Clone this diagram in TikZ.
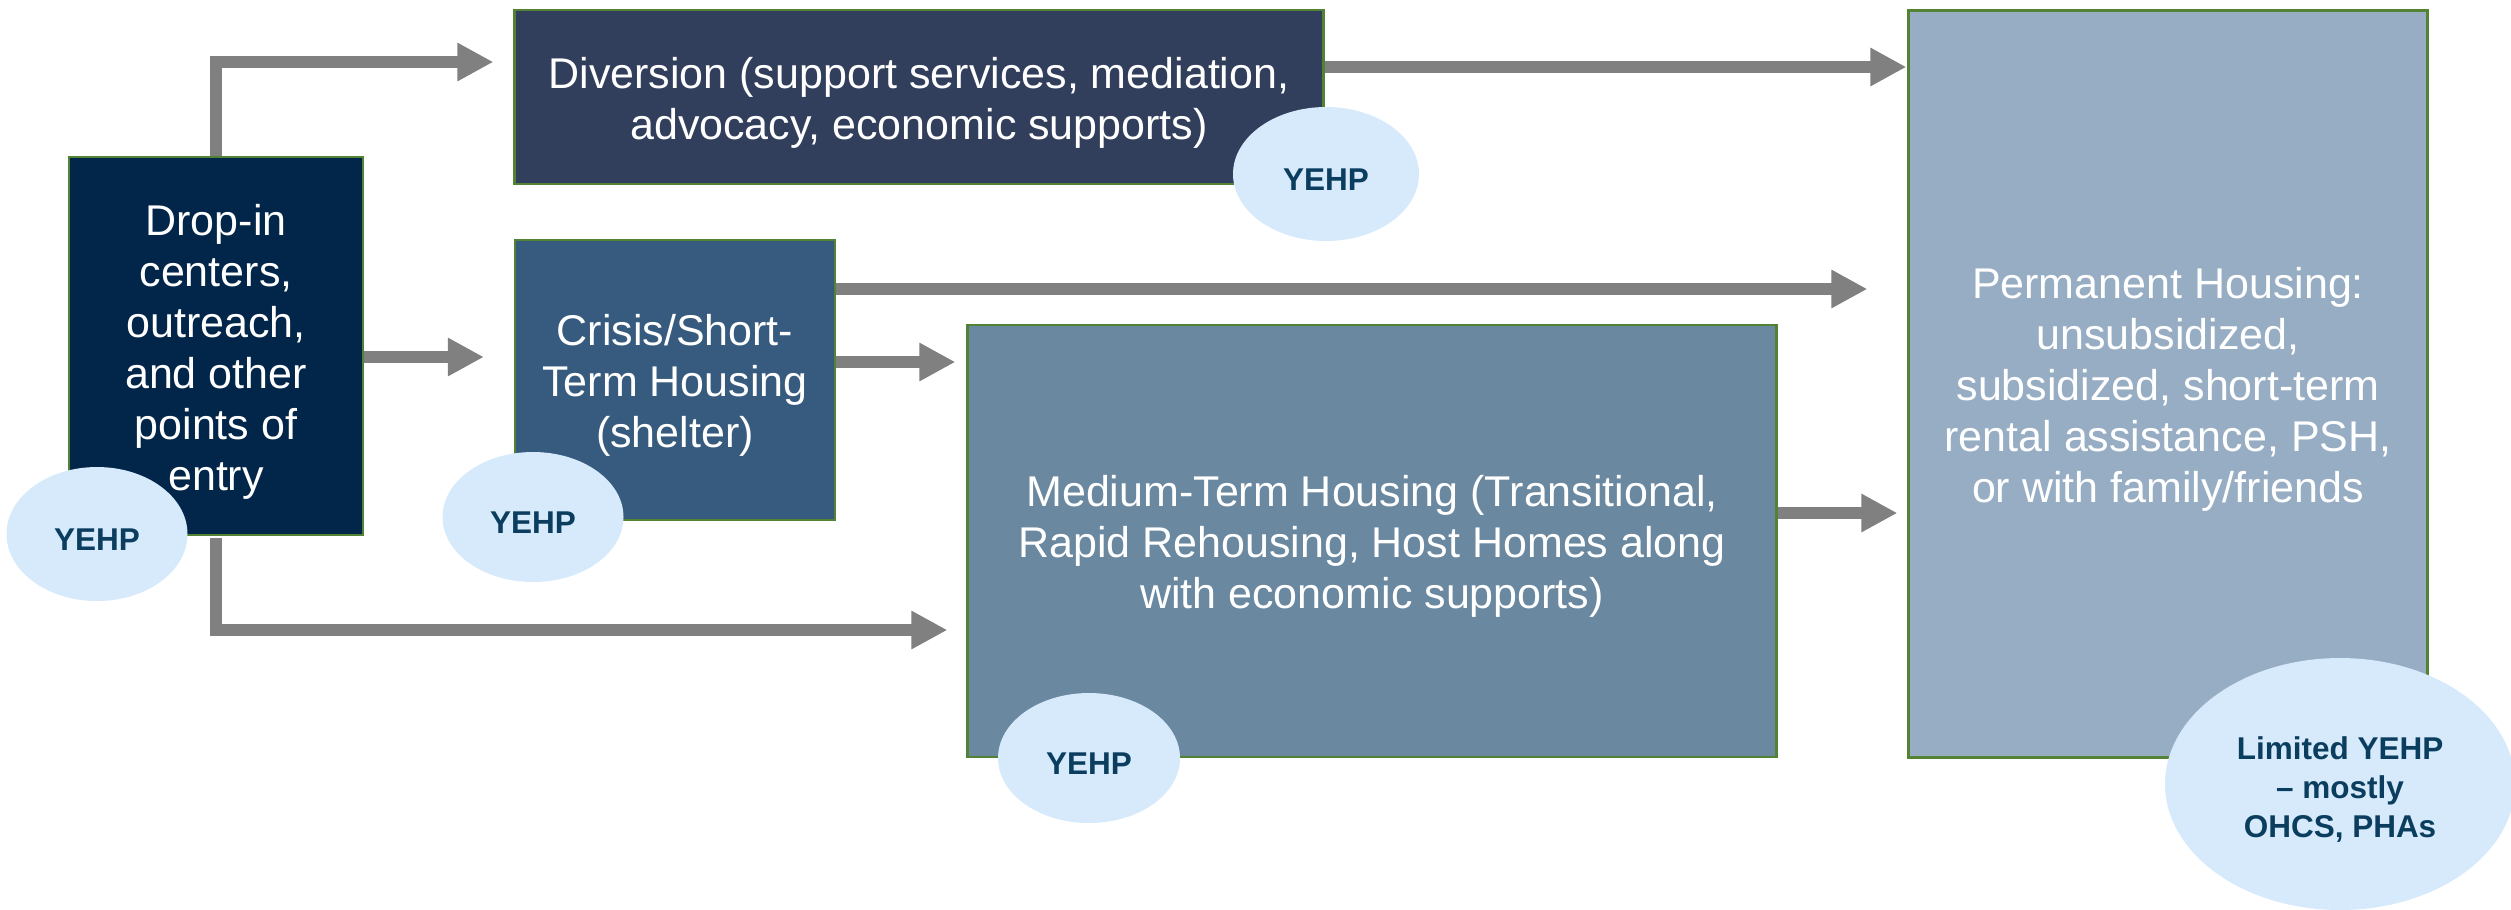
\documentclass[tikz,border=0pt]{standalone}
\usepackage{fontspec}
\setmainfont{Liberation Sans}
\usetikzlibrary{arrows.meta,shapes.geometric,calc}
\definecolor{cdrop}{HTML}{02264A}
\definecolor{cdiv}{HTML}{323F5C}
\definecolor{ccrisis}{HTML}{375B7E}
\definecolor{cmed}{HTML}{6A88A0}
\definecolor{cperm}{HTML}{97ADC4}
\definecolor{cborder}{HTML}{548235}
\definecolor{cell}{HTML}{D6EAFC}
\definecolor{cyehp}{HTML}{0B3D5E}
\definecolor{carrow}{HTML}{808080}
\tikzset{
  textdrop/.style={execute at begin node={\rule{0pt}{#1}}},
  box/.style={draw=cborder, line width=0.9pt, inner sep=0pt},
  boxtext/.style={inner sep=0pt, align=center, text=white, yshift=-2.2pt,
    font=\fontsize{17.2pt}{20.4pt}\selectfont},
  badge/.style={ellipse, fill=cell, inner sep=0pt, align=center, text=cyehp,
    font=\bfseries\fontsize{12.6pt}{15.6pt}\selectfont, textdrop=13.4pt},
  badgetext/.style={inner sep=0pt, align=center, text=cyehp, yshift=-2.2pt,
    font=\bfseries\fontsize{12.6pt}{15.6pt}\selectfont},
  arr/.style={draw=carrow, line width=4.8pt, line join=miter,
    -{Triangle[length=14.4pt,width=14.4pt]}}
}
\begin{document}
\begin{tikzpicture}[x=0.4pt,y=-0.4pt]
\useasboundingbox (0,0) rectangle (2511,909);
\clip (0,0) rectangle (2511,909);
% boxes
\node[box, fill=cdrop, minimum width=294*0.4pt, minimum height=378*0.4pt,
  label={[boxtext]center:{Drop-in\\centers,\\outreach,\\and other\\points of\\entry}}] (drop) at (216,346) {};
\node[box, fill=cdiv, minimum width=809*0.4pt, minimum height=174*0.4pt,
  label={[boxtext]center:{Diversion (support services, mediation,\\advocacy, economic supports)}}] (div) at (919,97) {};
\node[box, fill=ccrisis, minimum width=320*0.4pt, minimum height=280*0.4pt,
  label={[boxtext]center:{Crisis/Short-\\Term Housing\\(shelter)}}] (crisis) at (675,380) {};
\node[box, fill=cmed, minimum width=809*0.4pt, minimum height=432*0.4pt,
  label={[boxtext]center:{Medium-Term Housing (Transitional,\\Rapid Rehousing, Host Homes along\\with economic supports)}}] (med) at (1372,541) {};
\node[box, fill=cperm, minimum width=519*0.4pt, minimum height=747*0.4pt,
  label={[boxtext]center:{Permanent Housing:\\unsubsidized,\\subsidized, short-term\\rental assistance, PSH,\\or with family/friends}}] (perm) at (2168,384) {};
% arrows
\draw[arr] (drop.north) |- ([shift={(-20,-35)}]div.west);
\draw[arr] ([shift={(0,11)}]drop.east) -- ([shift={(-30,-23)}]crisis.west);
\draw[arr] ([shift={(0,2)}]drop.south) |- ([shift={(-19,89)}]med.west);
\draw[arr] ([shift={(0,-18)}]crisis.east) -- ([shift={(-11,-179)}]med.west);
\draw[arr] ([shift={(0,-91)}]crisis.east) -- ([shift={(-40,-95)}]perm.west);
\draw[arr] ([shift={(0,-30)}]div.east) -- ([shift={(-1,-317)}]perm.west);
\draw[arr] ([shift={(0,-28)}]med.east) -- ([shift={(-10,129)}]perm.west);
% badges
\node[badge, minimum width=181*0.4pt, minimum height=134*0.4pt] (b1) at (97,534) {YEHP};
\node[badge, minimum width=181*0.4pt, minimum height=130*0.4pt] (b2) at (533,517) {YEHP};
\node[badge, minimum width=186*0.4pt, minimum height=134*0.4pt] (b3) at (1326,174) {YEHP};
\node[badge, minimum width=182*0.4pt, minimum height=130*0.4pt] (b4) at (1089,758) {YEHP};
\node[badge, minimum width=350*0.4pt, minimum height=252*0.4pt,
  label={[badgetext]center:{Limited YEHP\\– mostly\\OHCS, PHAs}}] (b5) at (2340,784) {};
\end{tikzpicture}
\end{document}
